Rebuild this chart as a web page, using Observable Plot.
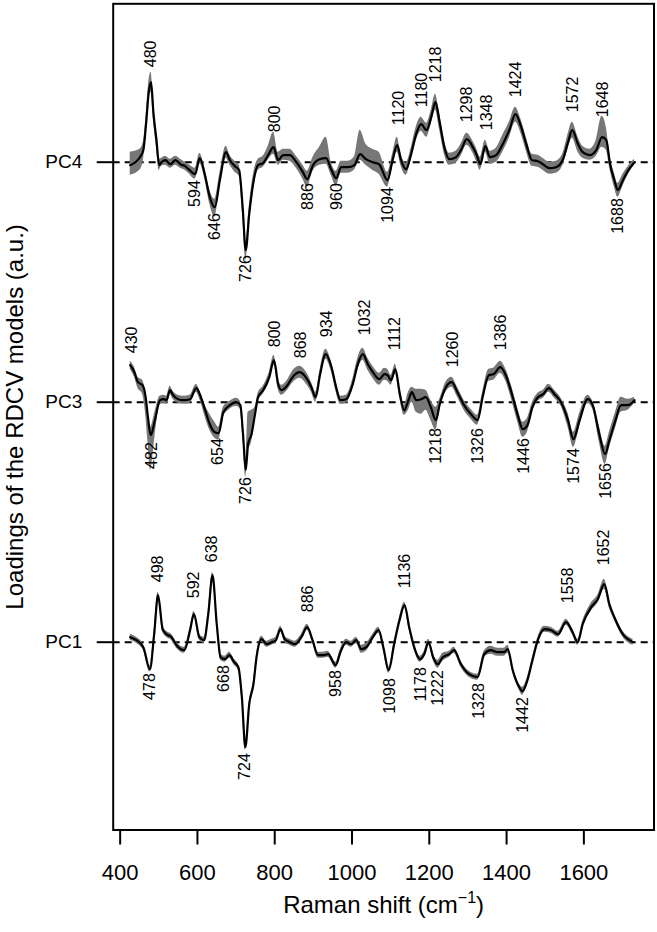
<!DOCTYPE html>
<html>
<head>
<meta charset="utf-8">
<script src="https://cdn.jsdelivr.net/npm/d3@7"></script>
<script src="https://cdn.jsdelivr.net/npm/@observablehq/plot@0.6"></script>
<style>
  html, body { margin: 0; padding: 0; background: #fff; }
  #chart svg { display: block; }
</style>
</head>
<body>
<div id="chart"></div>
<script>
// ---- categories / ticks ----
const pcNames = ["PC4", "PC3", "PC1"];
const pcOffsets = [480, 240, 0];          // vertical offsets of each loading (a.u. x100)
const xTicks = [400, 600, 800, 1000, 1200, 1400, 1600];
const xTitle = "Raman shift (cm-1)";
const yTitle = "Loadings of the RDCV models (a.u.)";

// ---- PC4 loading ----
const pc4Shift = [426,451,460,467,474,480,486,494,501,507,517,530,543,556,568,577,594,606,619,632,645,658,674,684,697,708,717,725,734,744,757,770,783,797,809,822,839,856,873,884,899,916,933,946,959,972,989,1006,1021,1036,1053,1070,1092,1105,1117,1127,1140,1153,1166,1179,1193,1205,1216,1226,1239,1252,1269,1282,1297,1313,1323,1332,1345,1357,1373,1390,1407,1423,1438,1451,1466,1481,1494,1511,1528,1546,1559,1570,1585,1597,1615,1632,1647,1658,1668,1679,1688,1701,1717,1731];
const pc4Value = [-3,5,12,38,70,80,50,22,-3,0, 2,-2,2,-2,-4,-7,-12,4,-12,-35, -45,-18,10,2,-4,-8,-45,-88,-52,-22, -3,-1,7,15,2,7,7,0,-10,-17, -3,3,4,-7,-16,-5,-5,-3,8,3, 0,-2,-18,2,17,2,-7,8,28,38, 32,45,60,42,15,3,5,12,23,15, 7,-2,16,5,7,18,32,48,35,18, 2,1,-2,-6,-5,3,20,32,18,10, 7,12,25,22,-2,-18,-28,-18,-7,0];
const pc4Upper = [10,13,20,46,80,90,60,30,3,4, 6,3,6,3,0,-2,-6,9,-6,-28, -37,-11,16,7,1,-3,-38,-80,-44,-14, 3,6,16,30,10,13,13,6,-3,-9, 5,15,25,0,-9,1,1,5,32,18, 13,10,-10,8,25,8,-1,14,35,45, 39,52,68,50,22,9,11,18,29,21, 13,5,22,11,14,27,40,55,42,25, 8,7,4,0,1,9,28,40,25,16, 13,22,46,35,6,-11,-21,-12,-3,3];
const pc4Lower = [-13,-8,2,30,60,70,42,14,-8,-4, -3,-6,-3,-6,-8,-11,-17,-1,-17,-42, -55,-25,4,-3,-10,-14,-52,-98,-62,-30, -8,-5,2,8,-3,2,1,-6,-17,-25, -9,-3,-2,-13,-24,-11,-11,-8,2,-3, -8,-12,-25,-4,10,-4,-13,2,21,31, 25,38,52,34,8,-3,-1,6,17,9, 0,-8,10,-2,0,10,24,40,28,11, -4,-5,-8,-12,-11,-3,13,24,10,4, 2,6,15,12,-8,-25,-35,-24,-11,-3];

// ---- PC3 loading ----
const pc3Shift = [426,437,446,458,466,472,479,490,503,513, 520,529,537,550,563,581,597,607,620,632, 645,655,667,684,701,711,718,725,731,740, 749,757,770,786,798,809,818,831,848,865, 882,895,906,917,932,947,959,970,985,1002, 1015,1028,1041,1054,1071,1084,1092,1101,1112,1124, 1135,1146,1155,1166,1179,1191,1204,1217,1227,1243, 1258,1273,1290,1308,1325,1338,1354,1366,1384,1398, 1414,1429,1442,1454,1467,1481,1495,1509,1524,1541, 1559,1573,1589,1610,1623,1640,1655,1666,1682,1696, 1714,1731];
const pc3Value = [37,30,20,17,5,-15,-33,-18,2,3, 2,12,7,3,2,3,14,7,-8,-22, -30,-31,-10,-3,0,-3,-32,-68,-42,-32, -12,5,12,25,42,18,12,16,26,30, 24,15,5,27,48,35,15,2,3,18, 38,48,38,30,23,28,27,22,33,8, -8,2,10,2,3,5,-5,-18,-2,15, 20,10,-3,-12,-18,5,27,28,35,27, 8,-13,-27,-23,-5,5,8,14,8,0, -18,-37,-18,3,-3,-32,-52,-38,-18,-3, -3,2];
const pc3Upper = [41,35,25,22,10,-8,-25,-10,6,7, 6,16,11,7,6,7,18,11,-3,-12, -20,-25,-5,1,4,1,-26,-60,-10,-8, -5,9,16,30,47,23,17,21,32,36, 30,20,10,32,53,40,20,6,7,23, 44,54,44,36,29,34,33,27,38,13, -3,10,15,13,13,12,2,-5,3,20, 25,15,2,-7,-13,10,33,34,41,33, 15,-6,-20,-16,0,9,12,18,12,4, -11,-30,-11,7,1,-24,-44,-30,-10,5, 3,5];
const pc3Lower = [33,25,14,8,-12,-40,-68,-35,-3,-1, -2,8,3,-1,-2,-1,10,2,-15,-28, -36,-38,-15,-7,-4,-7,-38,-75,-50,-40, -18,1,8,20,37,13,7,11,20,24, 18,10,0,22,43,30,10,-2,-1,13, 32,42,32,24,17,22,21,17,28,3, -13,-8,0,-10,-12,-8,-18,-28,-8,10, 15,5,-8,-17,-23,0,21,22,29,21, 1,-20,-35,-30,-10,1,4,10,4,-4, -25,-45,-25,-1,-7,-40,-62,-46,-26,-10, -8,-1];

// ---- PC1 loading ----
const pc1Shift = [426,442,460,477,488,498,510,520,533,546, 566,581,591,605,617,628,639,650,660,671, 683,695,706,715,724,734,745,753,766,779, 792,803,815,826,839,852,869,884,898,912, 925,938,958,970,985,998,1011,1024,1037,1054, 1069,1081,1095,1109,1123,1136,1148,1161,1176,1187, 1198,1210,1222,1235,1252,1264,1282,1303,1325,1342, 1359,1377,1394,1403,1416,1433,1441,1454,1467,1481, 1498,1515,1533,1554,1571,1584,1597,1619,1636,1653, 1666,1679,1701,1727];
const pc1Value = [5,2,-5,-27,8,47,13,8,5,-3, -8,12,28,5,2,28,67,18,-15,-17, -13,-20,-25,-55,-105,-62,-42,-15,3,-2, 0,2,13,3,0,-2,5,15,2,-13, -13,-12,-23,-10,0,-2,2,-7,-5,5, 12,-5,-28,-2,22,37,15,-5,-17,-12, 0,-15,-22,-15,-12,-8,-22,-32,-35,-12, -8,-10,-10,-7,-28,-45,-49,-38,-18,2, 13,12,8,20,10,0,18,35,43,58, 38,25,8,0];
const pc1Spread = [3,3,3,3,3,3,3,3,3,3, 3,3,3,3,3,3,3,3,3,3, 3,3,3,3,3,3,3,3,3,3, 3,3,3,3,3,3,3,3,3,3, 3,3,3,3,3,3,3,4,4,3, 3,3,3,3,3,3,3,3,3,3, 3,3,4,4,3,3,3,3,3,3, 4,4,4,4,3,3,4,3,3,3, 3,3,3,3,3,3,3,4,4,5, 4,3,3,3];

// ---- peak labels ----
const pc4PeakShift = [480,594,646,726,800,886,960,1094,1120,1180,1218,1298,1348,1424,1572,1648,1688];
const pc4PeakPos   = [95,-18,-51,-93,30,-21,-21,-25,37,55,80,40,32,65,50,45,-36];
const pc4PeakDir   = ["up","down","down","down","up","down","down","down","up","up","up","up","up","up","up","up","down"];

const pc3PeakShift = [430,482,654,726,800,868,934,1032,1112,1218,1260,1326,1386,1446,1574,1656];
const pc3PeakPos   = [49,-40,-36,-75,55,44,65,67,52,-26,35,-26,52,-36,-46,-61];
const pc3PeakDir   = ["up","down","down","down","up","up","up","up","up","down","up","down","up","down","down","down"];

const pc1PeakShift = [478,498,592,638,668,724,886,958,1098,1136,1178,1222,1328,1442,1558,1652];
const pc1PeakPos   = [-31,60,44,80,-23,-111,30,-28,-36,54,-25,-28,-41,-55,39,77];
const pc1PeakDir   = ["down","up","up","up","down","down","up","down","down","up","down","down","down","down","up","up"];

// ---- build tables ----
const spectra = [
  {name: "PC4", offset: pcOffsets[0], x: pc4Shift, y: pc4Value, hi: pc4Upper, lo: pc4Lower},
  {name: "PC3", offset: pcOffsets[1], x: pc3Shift, y: pc3Value, hi: pc3Upper, lo: pc3Lower},
  {name: "PC1", offset: pcOffsets[2], x: pc1Shift, y: pc1Value,
   hi: pc1Value.map((v, i) => v + pc1Spread[i]), lo: pc1Value.map((v, i) => v - pc1Spread[i])}
];
const rows = spectra.flatMap(s => s.x.map((x, i) => ({
  series: s.name, x, y: s.y[i] + s.offset, hi: s.hi[i] + s.offset, lo: s.lo[i] + s.offset
})));

const peakSets = [
  {offset: pcOffsets[0], x: pc4PeakShift, p: pc4PeakPos, d: pc4PeakDir},
  {offset: pcOffsets[1], x: pc3PeakShift, p: pc3PeakPos, d: pc3PeakDir},
  {offset: pcOffsets[2], x: pc1PeakShift, p: pc1PeakPos, d: pc1PeakDir}
];
const peaks = peakSets.flatMap(s => s.x.map((x, i) => ({x, y: s.p[i] + s.offset, dir: s.d[i], label: String(x)})));

const FONT = "'Liberation Sans', Arial, Helvetica, sans-serif";

const chart = Plot.plot({
  width: 657,
  height: 932,
  marginLeft: 112.7,
  marginRight: 3.5,
  marginTop: 3.3,
  marginBottom: 102.5,
  style: {fontFamily: FONT, background: "#fff", color: "#000"},
  x: {domain: [382, 1781.5], label: null},
  y: {domain: [-187.8, 638.4], label: null},
  marks: [
    Plot.ruleY(pcOffsets, {stroke: "#000", strokeWidth: 2, strokeDasharray: "7,5"}),
    Plot.areaY(rows, {x: "x", y1: "lo", y2: "hi", z: "series", fill: "#777777", curve: "monotone-x"}),
    Plot.lineY(rows, {x: "x", y: "y", z: "series", stroke: "#000", strokeWidth: 2.2, curve: "monotone-x"}),
    Plot.text(peaks.filter(d => d.dir === "up"), {x: "x", y: "y", text: "label", rotate: -90, textAnchor: "start", fontSize: 16, fill: "#000"}),
    Plot.text(peaks.filter(d => d.dir === "down"), {x: "x", y: "y", text: "label", rotate: -90, textAnchor: "end", fontSize: 16, fill: "#000"}),
    Plot.frame({stroke: "#000", strokeWidth: 2}),
    Plot.axisX({ticks: xTicks, tickFormat: d => String(d), tickSize: 15, tickPadding: 19, fontSize: 22, strokeWidth: 2, label: null}),
    Plot.axisY({ticks: pcOffsets, tickFormat: (d, i) => pcNames[pcOffsets.indexOf(d)], tickSize: 16, tickPadding: 15, fontSize: 19, strokeWidth: 2, label: null}),
    Plot.text([yTitle], {frameAnchor: "left", dx: -98.2, rotate: -90, textAnchor: "middle", fontSize: 24, fill: "#000"}),
    Plot.text([xTitle], {frameAnchor: "bottom", dy: 82.5, textAnchor: "middle", fontSize: 24, fill: "#000"})
  ]
});

// superscript for cm^-1
chart.querySelectorAll("text").forEach(t => {
  if (t.textContent === xTitle) {
    t.textContent = "Raman shift (cm";
    const ns = "http://www.w3.org/2000/svg";
    const sup = document.createElementNS(ns, "tspan");
    sup.setAttribute("font-size", "16px");
    sup.setAttribute("dy", "-10");
    sup.textContent = "\u22121";
    const close = document.createElementNS(ns, "tspan");
    close.setAttribute("dy", "10");
    close.textContent = ")";
    t.appendChild(sup);
    t.appendChild(close);
  }
});

document.getElementById("chart").appendChild(chart);
</script>
</body>
</html>
